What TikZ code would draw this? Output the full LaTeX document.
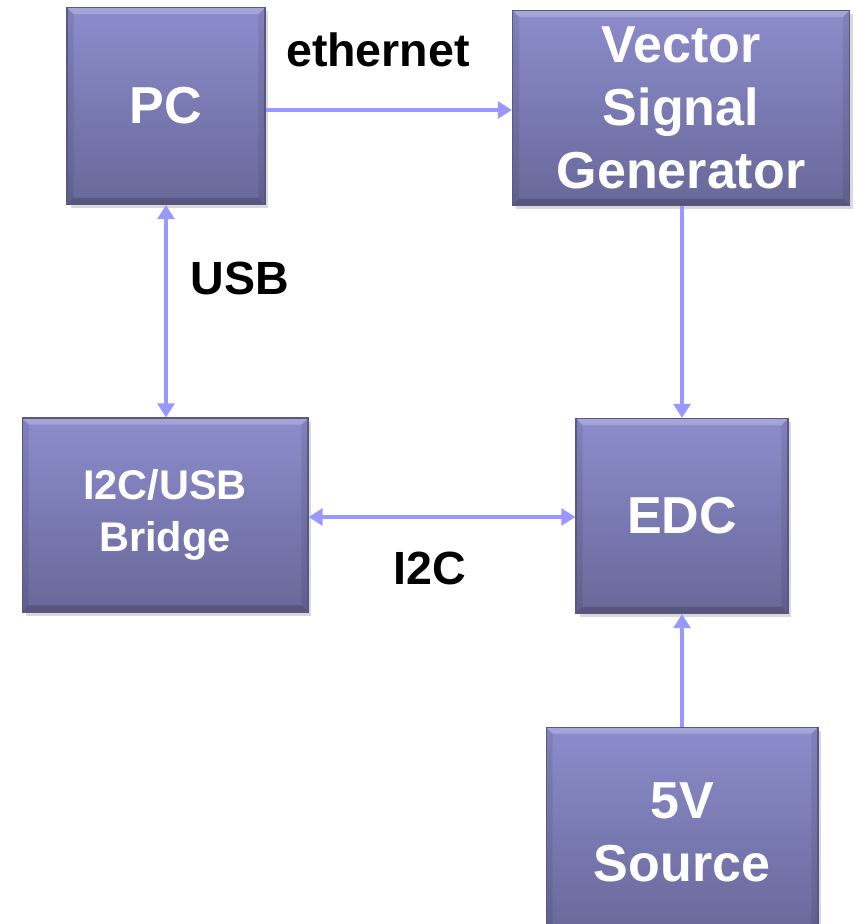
\documentclass[tikz,border=0pt]{standalone}
\usepackage{fontspec}
\setmainfont{Liberation Sans}
\usetikzlibrary{arrows.meta,shadows}
\definecolor{boxtop}{RGB}{140,140,204}
\definecolor{boxbot}{RGB}{104,104,154}
\definecolor{boxline}{RGB}{88,88,128}
\definecolor{link}{RGB}{152,152,255}

\begin{document}
\begin{tikzpicture}[x=0.02cm, y=-0.02cm, % 1 unit = 1 px of the sheet
  bevel/.style={path picture={
    \coordinate (nw) at (path picture bounding box.north west);
    \coordinate (ne) at (path picture bounding box.north east);
    \coordinate (sw) at (path picture bounding box.south west);
    \coordinate (se) at (path picture bounding box.south east);
    \fill[white, opacity=0.22] (nw) -- (ne) -- ([shift={(-0.13cm,-0.13cm)}]ne)
      -- ([shift={(0.13cm,-0.13cm)}]nw) -- cycle;
    \fill[black, opacity=0.18] (sw) -- (se) -- ([shift={(-0.13cm,0.13cm)}]se)
      -- ([shift={(0.13cm,0.13cm)}]sw) -- cycle;
    \fill[black, opacity=0.08] (nw) -- ([shift={(0.13cm,-0.13cm)}]nw)
      -- ([shift={(0.13cm,0.13cm)}]sw) -- (sw) -- cycle;
    \fill[black, opacity=0.08] (ne) -- ([shift={(-0.13cm,-0.13cm)}]ne)
      -- ([shift={(-0.13cm,0.13cm)}]se) -- (se) -- cycle;
  }},
  block/.style={draw=boxline, line width=0.6pt, top color=boxtop,
    bottom color=boxbot, text=white, align=center, inner sep=0pt, bevel,
    font=\bfseries\fontsize{29.6}{35.8}\selectfont,
    drop shadow={opacity=0.3, shadow xshift=2pt, shadow yshift=-2pt}},
  small block/.style={block, font=\bfseries\fontsize{23.6}{29.6}\selectfont},
  link/.style={draw=link, line width=2.8pt,
    -{Triangle[width=9.5pt, length=8pt]}},
  biglink/.style={link, {Triangle[width=9.5pt, length=8pt]}-{Triangle[width=9.5pt, length=8pt]}},
  tag/.style={font=\bfseries\fontsize{26.5}{32}\selectfont, inner sep=0pt},
  ]
  \useasboundingbox (0,0) rectangle (856,924);

  % boxes
  \node[block, minimum width=3.96cm, minimum height=3.94cm] (pc) at (166,106) {PC};
  \node[block, minimum width=6.74cm, minimum height=3.90cm] (vsg) at (681,108)
    {Vector\\Signal\\Generator};
  \node[small block, minimum width=5.72cm, minimum height=3.88cm] (bridge) at (165,515)
    {I2C/USB\\Bridge};
  \node[block, minimum width=4.24cm, minimum height=3.90cm] (edc) at (682,516) {EDC};
  \node[block, minimum width=5.44cm, minimum height=4.20cm] (source) at (682,770+62)
    {5V\\Source};

  % connections
  \draw[link] (pc.east |- 0,110) -- (vsg.west |- 0,110);
  \draw[biglink] (pc.south) -- (bridge.north -| pc.south);
  \draw[link] (edc.north |- vsg.south) -- (edc.north);
  \draw[biglink] (bridge.east |- 0,517) -- (edc.west |- 0,517);
  \draw[link] (source.north) -- (edc.south);

  % labels
  \node[tag] (eth) at (378,50) {ethernet};
  \node[tag] (usb) at (240,278) {USB};
  \node[tag] (i2c) at (430,568) {I2C};
\end{tikzpicture}
\end{document}
